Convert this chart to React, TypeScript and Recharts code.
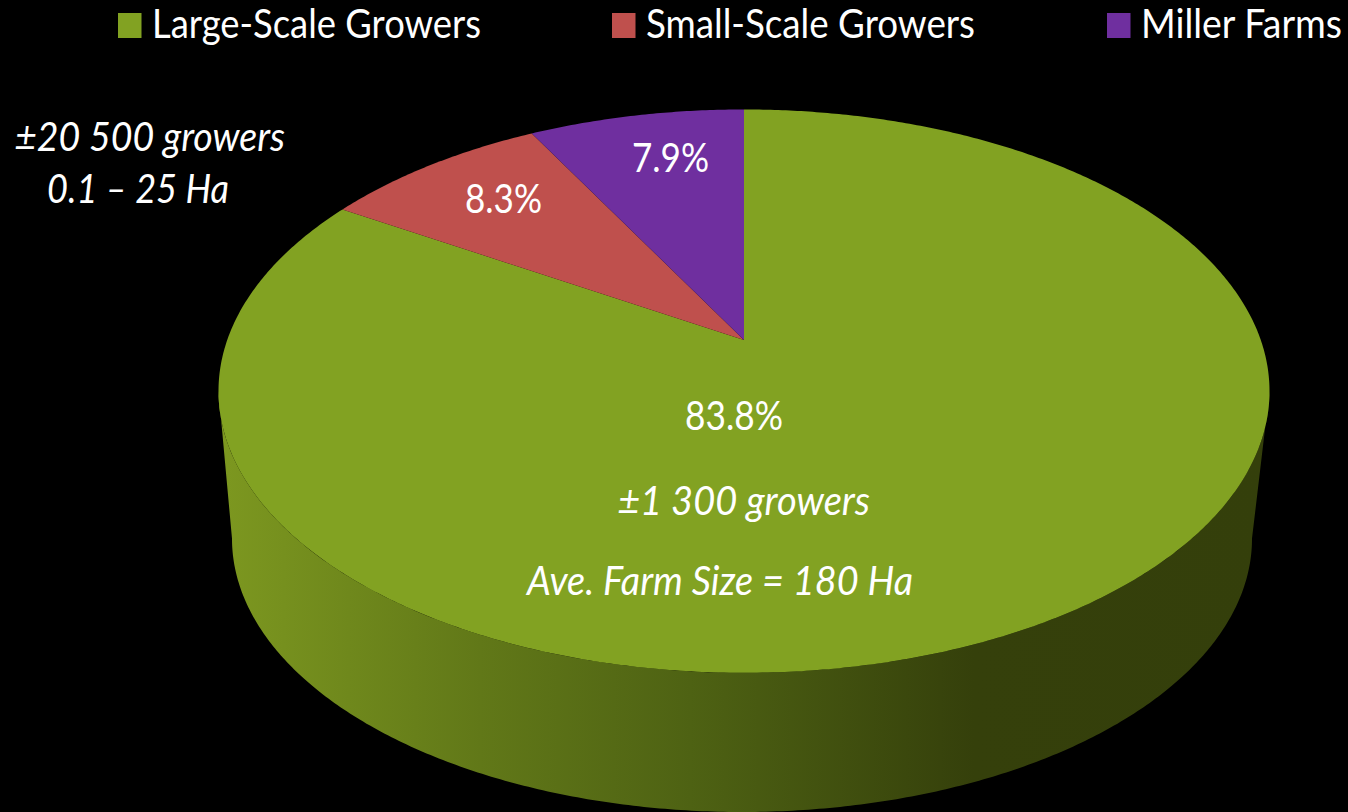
import React from 'react'
import { PieChart, Pie, Cell, Legend } from 'recharts'

const categories = ['Large-Scale Growers', 'Small-Scale Growers', 'Miller Farms']
const shares = [83.8, 8.3, 7.9]
const colors = ['#82a222', '#bf504d', '#6f2f9f']

const chartData = categories.map((name, i) => ({ name, value: shares[i] }))

const FONT = 'Lato, Carlito, sans-serif'

// top disc of the pie, cx/cy sit on the apex of the slices
const TOP = { cx: 744, cy: 340, r: 525.5 }
// bottom rim of the side wall
const BOTTOM = { cx: 742, cy: 489, r: 510 }
const SQUASH = 0.536
const PERSPECTIVE = 0.1815
const FRONT_ANGLE = (Math.asin(PERSPECTIVE) * 180) / Math.PI

// circle point -> tilted disc, straight lines stay straight so the apex moves up
function project(cx: number, cy: number, r: number, angle: number) {
  const u = Math.cos((angle * Math.PI) / 180)
  const v = Math.sin((angle * Math.PI) / 180)
  const b = PERSPECTIVE
  const d = 1 + b * v
  const ry = r * SQUASH
  return {
    x: cx + (r * u * Math.sqrt(1 - b * b)) / d,
    y: cy + ry * b - (ry * (v + b)) / d,
  }
}

function arc(cx: number, cy: number, r: number, from: number, to: number) {
  const steps = Math.max(2, Math.ceil(Math.abs(from - to) * 2))
  const pts = []
  for (let i = 0; i <= steps; i++) {
    const p = project(cx, cy, r, from + ((to - from) * i) / steps)
    pts.push(`${p.x.toFixed(2)} ${p.y.toFixed(2)}`)
  }
  return pts
}

function TopSlice(props: any) {
  const { cx, cy, outerRadius, startAngle, endAngle, fill } = props
  const pts = arc(cx, cy, outerRadius, startAngle, endAngle)
  return <path d={`M${cx} ${cy}L${pts.join('L')}Z`} fill={fill} />
}

function WallSlice(props: any) {
  const { cx, cy, outerRadius, startAngle, endAngle, fill } = props
  // only the front of the rim can be seen
  const from = Math.min(startAngle, -FRONT_ANGLE)
  const to = Math.max(endAngle, -180 + FRONT_ANGLE)
  if (from <= to) return null
  const upper = arc(TOP.cx, TOP.cy, TOP.r, from, to)
  const lower = arc(cx, cy, outerRadius, to, from)
  return <path d={`M${upper.join('L')}L${lower.join('L')}Z`} fill={fill} />
}

const PCT_LABELS = [
  { x: 685, y: 430, w: 98 },
  { x: 465, y: 213, w: 77 },
  { x: 632, y: 172, w: 77 },
]

function renderPct({ index, value }: any) {
  const l = PCT_LABELS[index]
  return (
    <text key={index} x={l.x} y={l.y} fill="#fff" fontFamily={FONT} fontSize={40} textLength={l.w} lengthAdjust="spacingAndGlyphs">
      {`${value}%`}
    </text>
  )
}

const NOTES = [
  { text: '±20 500 growers', x: 15, y: 151, w: 270 },
  { text: '0.1 – 25 Ha', x: 47, y: 203, w: 182 },
  { text: '±1 300 growers', x: 618, y: 515, w: 252 },
  { text: 'Ave. Farm Size = 180 Ha', x: 527, y: 595, w: 386 },
]

const LEGEND_POS = [
  { box: 118, x: 152, w: 329 },
  { box: 612, x: 646, w: 329 },
  { box: 1107, x: 1141, w: 201 },
]

function LegendRow() {
  return (
    <svg width={1348} height={60} style={{ display: 'block' }}>
      {categories.map((name, i) => (
        <g key={name}>
          <rect x={LEGEND_POS[i].box} y={13} width={23.5} height={25} fill={colors[i]} />
          <text x={LEGEND_POS[i].x} y={38} fill="#fff" fontFamily={FONT} fontSize={40} textLength={LEGEND_POS[i].w} lengthAdjust="spacingAndGlyphs">
            {name}
          </text>
        </g>
      ))}
    </svg>
  )
}

export default function App() {
  return (
    <div style={{ position: 'absolute', left: 0, top: 0, width: 1348, height: 812, background: '#000', overflow: 'hidden' }}>
      <PieChart width={1348} height={812} margin={{ top: 0, right: 0, bottom: 0, left: 0 }}>
        <defs>
          <linearGradient id="wallFill" gradientUnits="userSpaceOnUse" x1={218} y1={0} x2={1268} y2={0}>
            <stop offset="0" stopColor="#7d9820" />
            <stop offset="0.25" stopColor="#617818" />
            <stop offset="0.45" stopColor="#4e6213" />
            <stop offset="0.72" stopColor="#35400b" />
            <stop offset="1" stopColor="#343f0b" />
          </linearGradient>
        </defs>
        <Pie
          data={chartData}
          dataKey="value"
          nameKey="name"
          cx={BOTTOM.cx}
          cy={BOTTOM.cy}
          outerRadius={BOTTOM.r}
          startAngle={90}
          endAngle={-270}
          stroke="none"
          legendType="none"
          shape={WallSlice}
          isAnimationActive={false}
        >
          {chartData.map((d) => (
            <Cell key={d.name} fill="url(#wallFill)" />
          ))}
        </Pie>
        <Pie
          data={chartData}
          dataKey="value"
          nameKey="name"
          cx={TOP.cx}
          cy={TOP.cy}
          outerRadius={TOP.r}
          startAngle={90}
          endAngle={-270}
          stroke="none"
          labelLine={false}
          label={renderPct}
          shape={TopSlice}
          isAnimationActive={false}
        >
          {chartData.map((d, i) => (
            <Cell key={d.name} fill={colors[i]} />
          ))}
        </Pie>
        <Legend content={LegendRow} wrapperStyle={{ left: 0, top: 0, width: 1348, height: 60 }} />
      </PieChart>
      <svg width={1348} height={812} style={{ position: 'absolute', left: 0, top: 0, pointerEvents: 'none' }}>
        {NOTES.map((n) => (
          <text key={n.text} x={n.x} y={n.y} fill="#fff" fontFamily={FONT} fontStyle="italic" fontSize={40} textLength={n.w} lengthAdjust="spacingAndGlyphs">
            {n.text}
          </text>
        ))}
      </svg>
    </div>
  )
}
